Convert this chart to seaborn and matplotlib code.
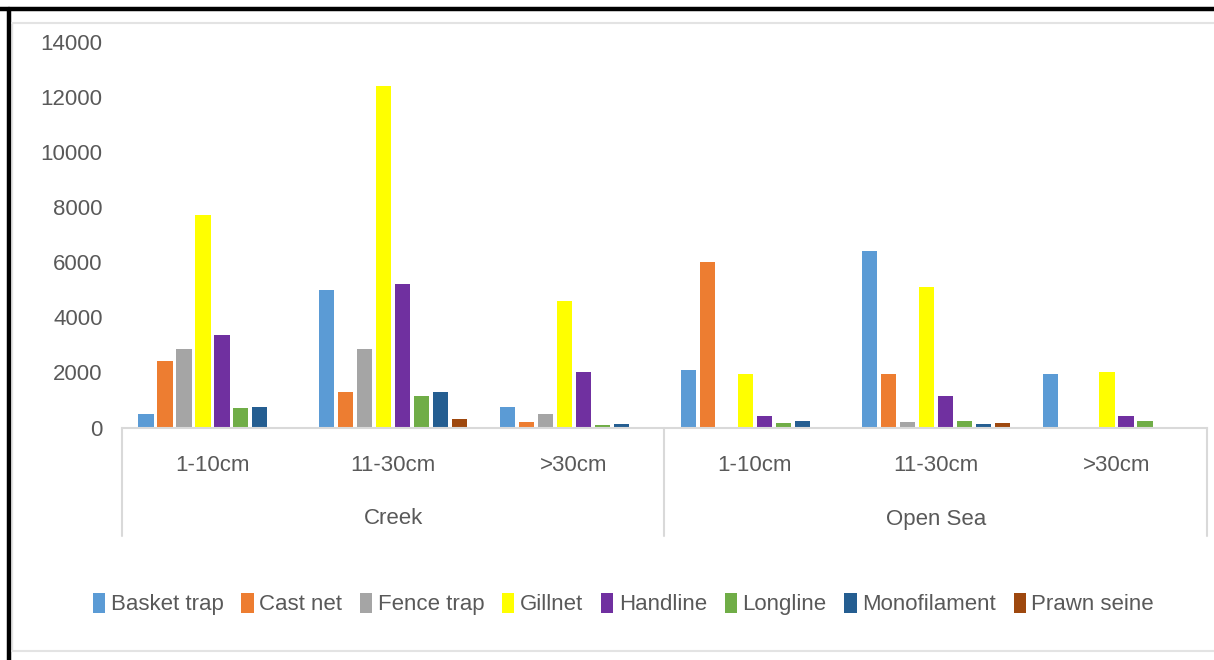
import matplotlib
matplotlib.use("Agg")
import matplotlib.pyplot as plt
from matplotlib.lines import Line2D
from matplotlib.patches import Patch
import matplotlib.transforms as mtransforms
import seaborn as sns
import pandas as pd

# Catch by habitat, size class and gear type
locations = ["Creek", "Open Sea"]
size_classes = ["1-10cm", "11-30cm", ">30cm"]
gears = ["Basket trap", "Cast net", "Fence trap", "Gillnet",
         "Handline", "Longline", "Monofilament", "Prawn seine"]

basket_trap = [500, 5000, 750, 2100, 6400, 1950]
cast_net = [2400, 1300, 200, 6000, 1950, 0]
fence_trap = [2850, 2850, 500, 0, 200, 0]
gillnet = [7700, 12400, 4600, 1950, 5100, 2000]
handline = [3350, 5200, 2000, 400, 1150, 400]
longline = [700, 1150, 100, 150, 250, 250]
monofilament = [750, 1300, 130, 250, 120, 0]
prawn_seine = [0, 300, 0, 0, 150, 0]

y_ticks = [0, 2000, 4000, 6000, 8000, 10000, 12000, 14000]

colors = ["#5B9BD5", "#ED7D31", "#A5A5A5", "#FFFF00",
          "#7030A0", "#70AD47", "#255E91", "#9E480E"]

series = [basket_trap, cast_net, fence_trap, gillnet,
          handline, longline, monofilament, prawn_seine]

bins = [f"{loc} {sc}" for loc in locations for sc in size_classes]
rows = []
for gear, vals in zip(gears, series):
    for b, v in zip(bins, vals):
        rows.append({"bin": b, "gear": gear, "value": v})
df = pd.DataFrame(rows)

sns.set_theme(style="white")
plt.rcParams["font.family"] = ["Liberation Sans Narrow", "Liberation Sans", "DejaVu Sans"]
text_color = "#595959"
line_gray = "#D9D9D9"
fs = 16

W, H = 1214, 660
fig = plt.figure(figsize=(W / 100, H / 100), dpi=100)
fig.patch.set_facecolor("white")

x0, x1 = 122, 1207
y_top, y_zero = 41.5, 427.5
ax = fig.add_axes([x0 / W, 1 - y_zero / H, (x1 - x0) / W, (y_zero - y_top) / H])

sns.barplot(data=df, x="bin", y="value", hue="gear", order=bins,
            hue_order=gears, palette=colors, saturation=1,
            width=0.84, gap=0.2, linewidth=0, errorbar=None, ax=ax)
if ax.get_legend() is not None:
    ax.get_legend().remove()

ax.set_xlim(-0.5, len(bins) - 0.5)
ax.set_ylim(0, 14000)
ax.set_yticks(y_ticks)
ax.set_yticklabels([str(t) for t in y_ticks], fontsize=fs, color=text_color)
ax.set_xticks(range(len(bins)))
ax.set_xticklabels(size_classes * len(locations), fontsize=fs, color=text_color)
ax.tick_params(axis="x", length=0, pad=20)
ax.tick_params(axis="y", length=0, pad=14)
ax.set_xlabel("")
ax.set_ylabel("")
for s in ["top", "right", "left"]:
    ax.spines[s].set_visible(False)
ax.spines["bottom"].set_color(line_gray)
ax.spines["bottom"].set_linewidth(1.5)
ax.grid(False)

# Two-level category axis: group separators and group labels
ax_h = y_zero - y_top
blend = mtransforms.blended_transform_factory(ax.transData, ax.transAxes)
sep_bottom = -(536 - y_zero) / ax_h
for xs in [-0.5, 2.5, 5.5]:
    ax.add_line(Line2D([xs, xs], [0, sep_bottom], transform=blend,
                       color=line_gray, lw=1.5, clip_on=False))
for i, loc in enumerate(locations):
    ax.text(i * 3 + 1, -(519 - y_zero) / ax_h, loc, transform=blend,
            ha="center", va="center", fontsize=fs, color=text_color)

# Legend
handles = [Patch(facecolor=c, edgecolor="none") for c in colors]
fig.legend(handles, gears, loc="center", bbox_to_anchor=(623.5 / W, 1 - 604 / H),
           ncol=len(gears), frameon=False, fontsize=fs, labelcolor=text_color,
           handlelength=0.55, handleheight=1.0, handletextpad=0.25,
           columnspacing=0.8)

# Outer frame: black edges at top and left, light inner border
fig.add_artist(Line2D([0, 1], [1 - 9 / H, 1 - 9 / H], transform=fig.transFigure,
                      color="black", lw=3.2))
fig.add_artist(Line2D([9 / W, 9 / W], [0, 1 - 9 / H], transform=fig.transFigure,
                      color="black", lw=3.2))
fig.add_artist(Line2D([12.5 / W, 1], [1 - 22.5 / H, 1 - 22.5 / H], transform=fig.transFigure,
                      color="#E3E3E3", lw=1.5))
fig.add_artist(Line2D([12.5 / W, 1], [1 - 650.5 / H, 1 - 650.5 / H], transform=fig.transFigure,
                      color="#E3E3E3", lw=1.5))
fig.add_artist(Line2D([12.5 / W, 12.5 / W], [1 - 650.5 / H, 1 - 22.5 / H], transform=fig.transFigure,
                      color="#E3E3E3", lw=1.0))

fig.savefig("out.png", dpi=100)
